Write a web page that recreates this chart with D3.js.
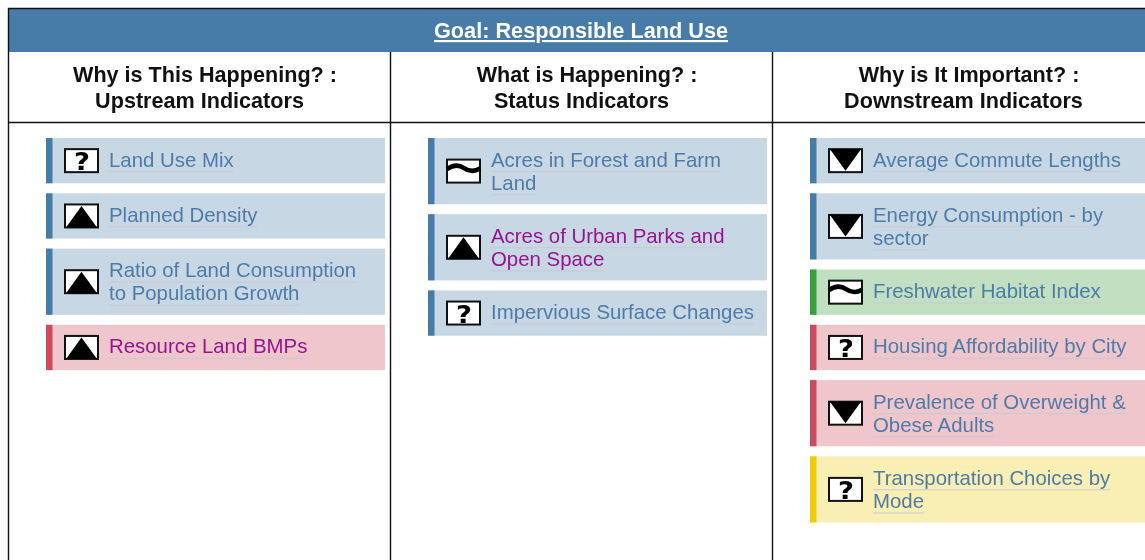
<!doctype html>
<html lang="en">
<head>
<meta charset="UTF-8">
<title>Goal: Responsible Land Use</title>
<style>
    html, body { margin: 0; padding: 0; background: #fff; overflow: hidden; }
    svg { display: block; font-family: "Liberation Sans", Arial, sans-serif; filter: blur(0.4px); }
</style>
</head>
<body>
<svg id="chart" width="1145" height="560"></svg>
<script src="https://d3js.org/d3.v7.min.js"></script>
<script>
    const goalTitle = "Goal: Responsible Land Use";
    const columnKeys = ["upstream", "status", "downstream"];
    const columnTitles = [
        ["Why is This Happening? :", "Upstream Indicators"],
        ["What is Happening? :", "Status Indicators"],
        ["Why is It Important? :", "Downstream Indicators"]
    ];

    // label lines, trend, status, visited link
    const upstream = [
        [["Land Use Mix"], "unknown", "neutral", false],
        [["Planned Density"], "up", "neutral", false],
        [["Ratio of Land Consumption", "to Population Growth"], "up", "neutral", false],
        [["Resource Land BMPs"], "up", "bad", true]
    ];
    const status = [
        [["Acres in Forest and Farm", "Land"], "flat", "neutral", false],
        [["Acres of Urban Parks and", "Open Space"], "up", "neutral", true],
        [["Impervious Surface Changes"], "unknown", "neutral", false]
    ];
    const downstream = [
        [["Average Commute Lengths"], "down", "neutral", false],
        [["Energy Consumption - by", "sector"], "down", "neutral", false],
        [["Freshwater Habitat Index"], "flat", "good", false],
        [["Housing Affordability by City"], "unknown", "bad", false],
        [["Prevalence of Overweight &", "Obese Adults"], "down", "bad", false],
        [["Transportation Choices by", "Mode"], "unknown", "warn", false]
    ];
    const columnItems = [upstream, status, downstream];

    const svg = d3.select("#chart");
    const blue = "#467ca7";

    const statusKeys = ["neutral", "bad", "good", "warn"];
    const barColor = d3.scaleOrdinal(statusKeys, [blue, "#cc4a5c", "#36a13c", "#f2cb05"]);
    const cardColor = d3.scaleOrdinal(statusKeys, ["#c7d7e4", "#efc6cc", "#c1e0c1", "#f9eeb3"]);

    const x = d3.scaleBand()
        .domain(columnKeys)
        .range([8.5, 1154.5]);

    const lineHeight = 23.2;
    const oneLine = 45.3, gap = 10;

    // header
    svg.append("rect").attr("x", 9).attr("y", 9).attr("width", 1136).attr("height", 43).attr("fill", blue);
    svg.append("text")
        .attr("x", 581).attr("y", 38)
        .attr("text-anchor", "middle")
        .attr("fill", "#fff")
        .attr("font-size", 21.7)
        .attr("font-weight", "bold")
        .attr("text-decoration", "underline")
        .text(goalTitle);

    // frame
    const frame = svg.append("g").attr("stroke", "#111").attr("fill", "none").attr("stroke-width", 1.4);
    frame.append("path").attr("d", "M8.5,560V8.5H1145");
    frame.append("path").attr("d", "M9,122.5H1145");
    columnKeys.slice(1).forEach(function (k) {
        frame.append("path").attr("d", "M" + x(k) + ",52V560");
    });

    function drawIcon(g, kind) {
        g.append("rect").attr("x", 1).attr("y", 1).attr("width", 33).attr("height", 23)
            .attr("fill", "#fff").attr("stroke", "#111").attr("stroke-width", 2);
        if (kind === "up") {
            g.append("path").attr("d", "M2,24L17.5,2.5L33,24Z").attr("fill", "#000");
        } else if (kind === "down") {
            g.append("path").attr("d", "M2,1H33L17.5,22.5Z").attr("fill", "#000");
        } else if (kind === "flat") {
            g.append("path").attr("d", "M1,10.5C8,5.5 13,6 18,9.5C23,13 28,13.5 34,10")
                .attr("fill", "none").attr("stroke", "#000").attr("stroke-width", 4.6);
        } else {
            g.append("text")
                .attr("transform", "translate(18,22) scale(1.2,1.1)")
                .attr("text-anchor", "middle")
                .attr("font-family", "DejaVu Sans")
                .attr("font-weight", "bold")
                .attr("font-size", 23)
                .attr("fill", "#000")
                .text("?");
        }
    }

    columnKeys.forEach(function (key, i) {
        const left = x(key);

        const head = svg.append("text")
            .attr("text-anchor", "middle")
            .attr("font-size", 21.6)
            .attr("font-weight", "bold")
            .attr("fill", "#111");
        columnTitles[i].forEach(function (line, j) {
            // second line sits a little left, like the trailing space in the original
            head.append("tspan")
                .attr("x", left + 196.5 - j * 5.5)
                .attr("y", 82 + j * 26.2)
                .text(line);
        });

        let y = 138;
        columnItems[i].forEach(function (d) {
            const lines = d[0];
            const h = oneLine + (lines.length - 1) * 20.9;
            const card = svg.append("g").attr("transform", "translate(" + (left + 37.5) + "," + y + ")");

            card.append("rect").attr("width", 339).attr("height", h).attr("fill", cardColor(d[2]));
            card.append("rect").attr("width", 6.5).attr("height", h).attr("fill", barColor(d[2]));

            const icon = card.append("g").attr("transform", "translate(18," + (h / 2 - 12.5) + ")");
            drawIcon(icon, d[1]);

            lines.forEach(function (line, j) {
                const label = card.append("text")
                    .attr("x", 63)
                    .attr("y", 28.5 + j * lineHeight)
                    .attr("font-size", 20.4)
                    .attr("fill", d[3] ? "#96148f" : "#4f7ba8")
                    .text(line);
                const w = label.node().getComputedTextLength();
                card.append("line")
                    .attr("x1", 63).attr("x2", 63 + w)
                    .attr("y1", 33.5 + j * lineHeight).attr("y2", 33.5 + j * lineHeight)
                    .attr("stroke", "#c9c9d2").attr("stroke-width", 1);
            });

            y += h + gap;
        });
    });
</script>
</body>
</html>
